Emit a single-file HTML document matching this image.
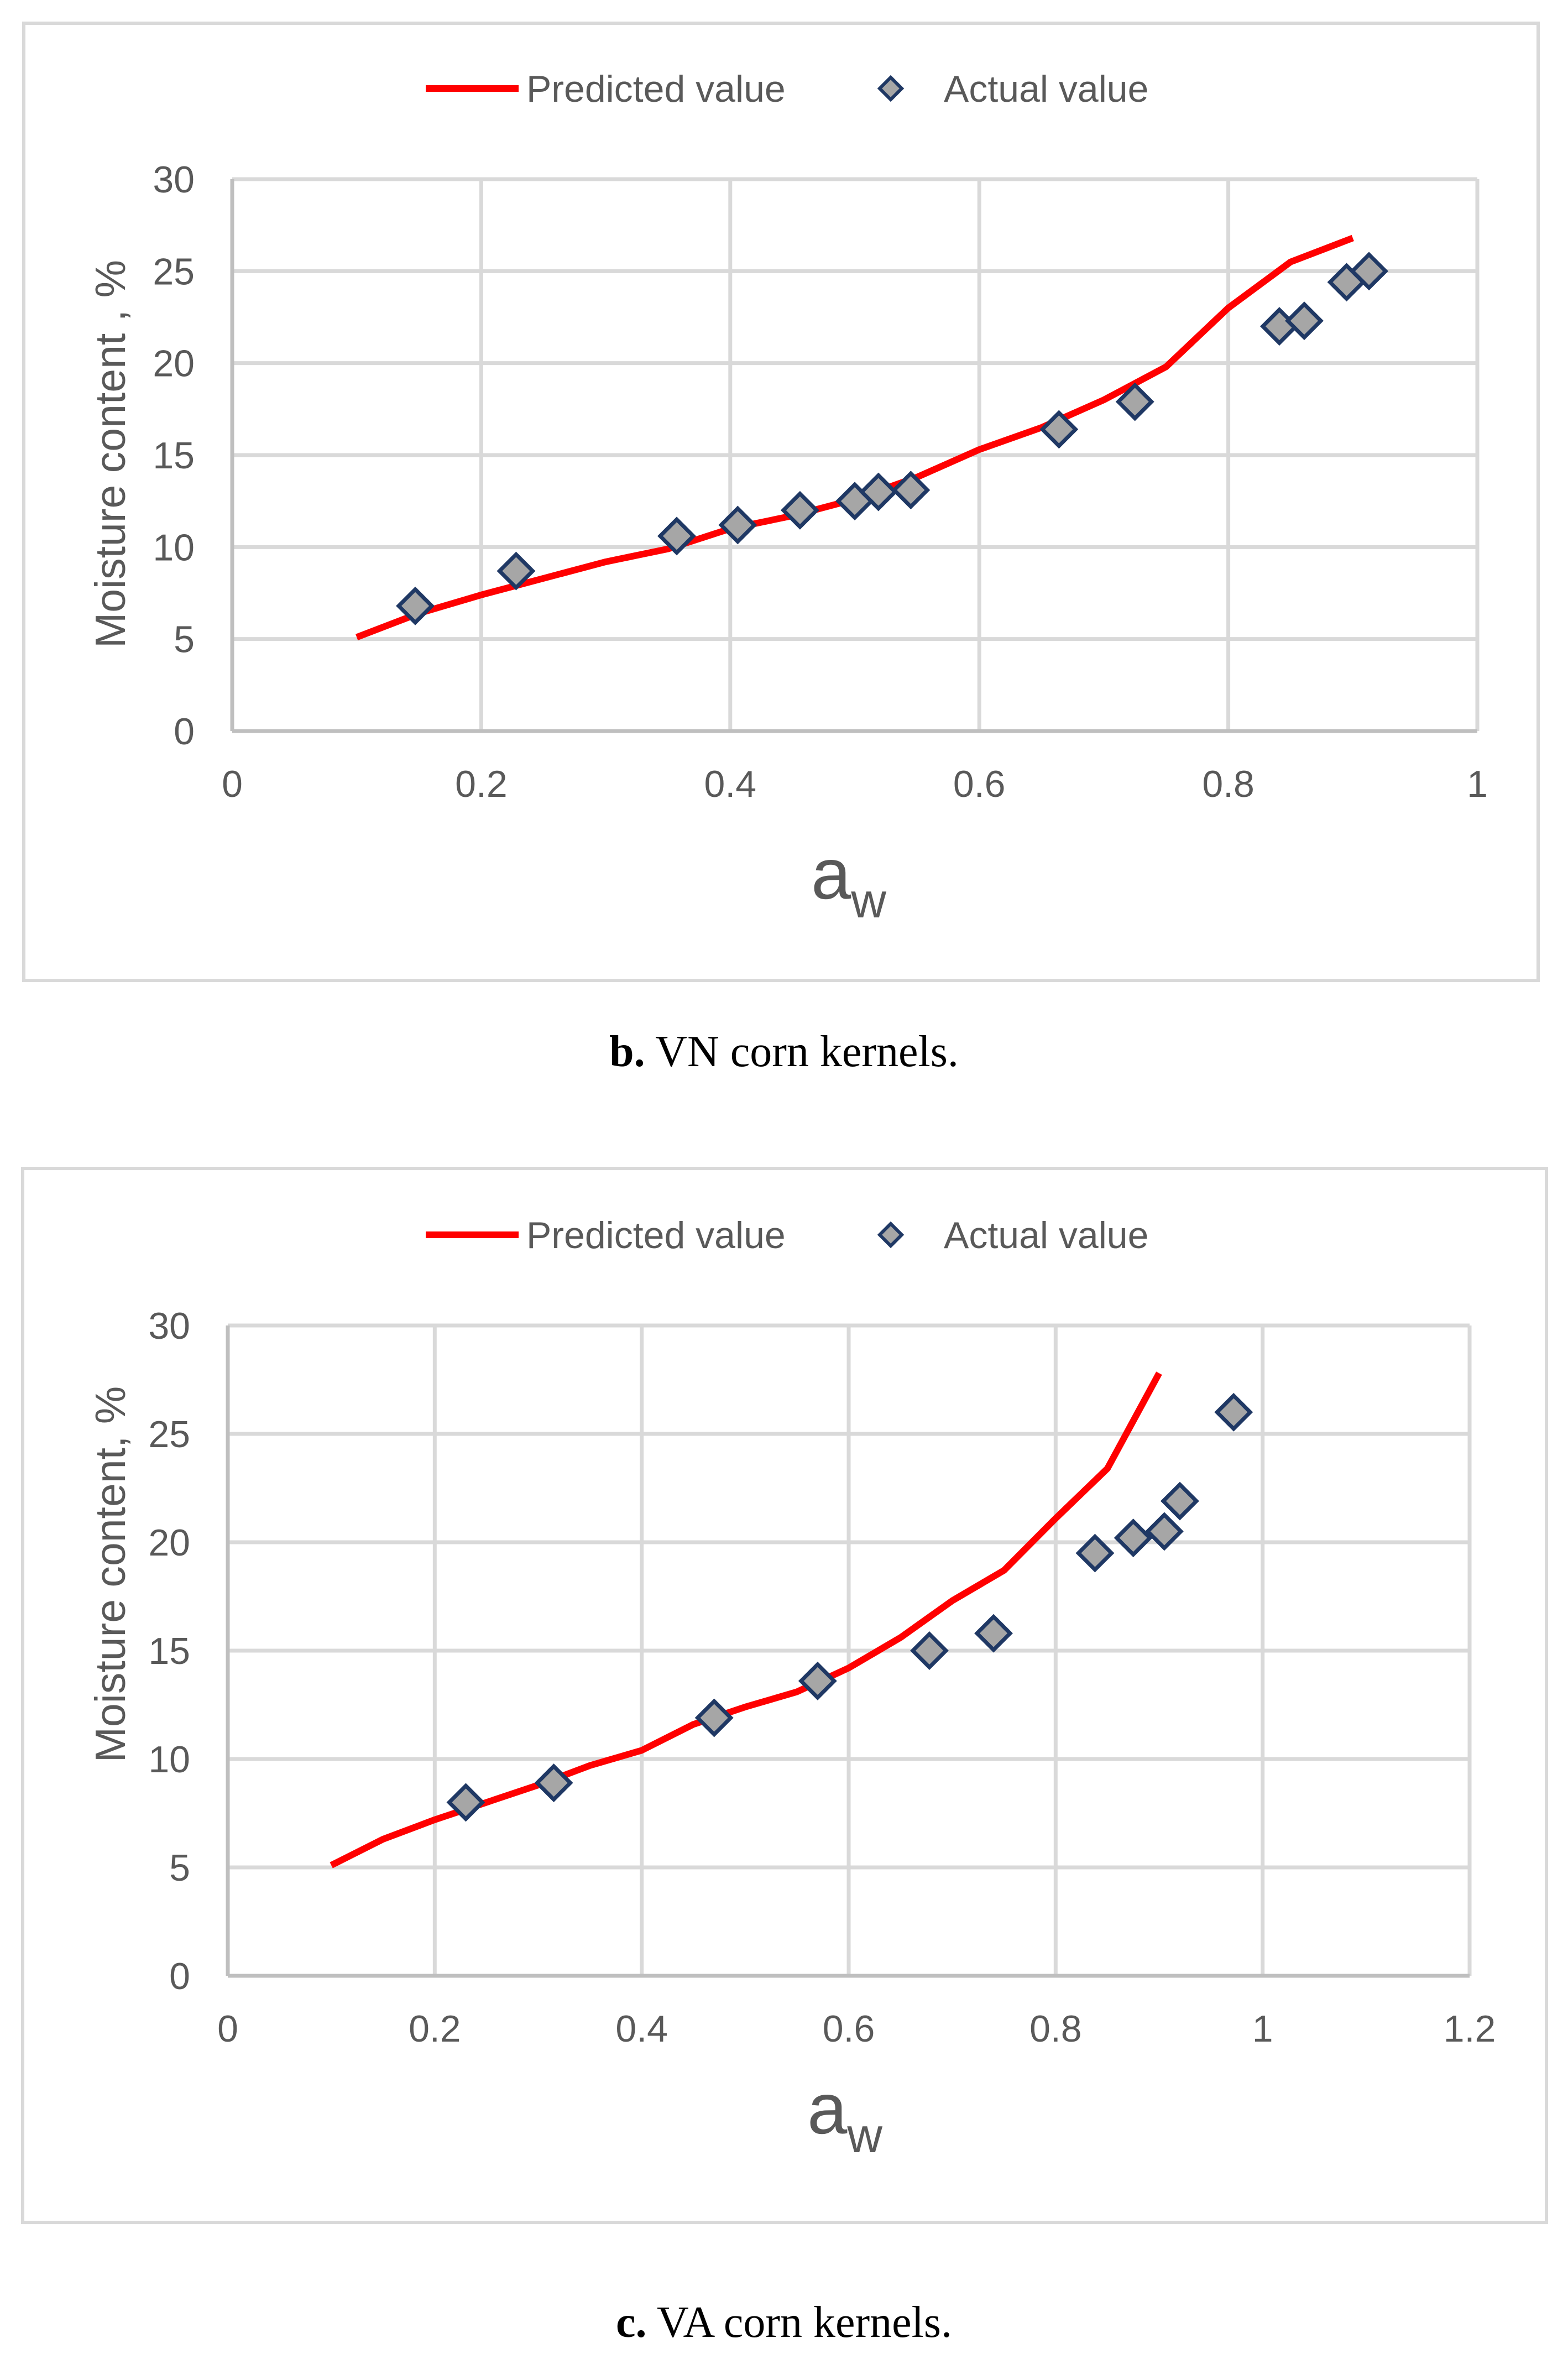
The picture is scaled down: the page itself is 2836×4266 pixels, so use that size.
<!DOCTYPE html>
<html><head><meta charset="utf-8"><style>
html,body{margin:0;padding:0;background:#fff;}
svg{display:block;}
text{font-family:"Liberation Sans","DejaVu Sans",sans-serif;fill:#595959;}
</style></head><body>
<svg id="s" width="2836" height="4266" viewBox="0 0 2836 4266" xmlns="http://www.w3.org/2000/svg">
<rect x="0" y="0" width="2836" height="4266" fill="#fff"/>
<rect x="43" y="42" width="2739" height="1731" fill="none" stroke="#d9d9d9" stroke-width="6"/>
<rect x="41" y="2113" width="2756" height="1906" fill="none" stroke="#d9d9d9" stroke-width="6"/>
<text x="1418" y="1928" text-anchor="middle" style="font-family:'Liberation Serif',serif;font-size:80px;fill:#000"><tspan font-weight="bold">b.</tspan> VN corn kernels.</text>
<text x="1418" y="4226" text-anchor="middle" style="font-family:'Liberation Serif',serif;font-size:80px;fill:#000"><tspan font-weight="bold">c.</tspan> VA corn kernels.</text>
</svg>
<script>
// Chart b data (VN)
const bPredX = [0.1,0.15,0.2,0.25,0.3,0.35,0.4,0.45,0.5,0.55,0.6,0.65,0.7,0.75,0.8,0.85,0.9];
const bPredY = [5.1,6.4,7.4,8.3,9.2,9.9,11.0,11.7,12.6,13.8,15.3,16.5,18.0,19.8,23.0,25.5,26.8];
const bActX = [0.147,0.228,0.357,0.406,0.456,0.5,0.519,0.545,0.664,0.725,0.841,0.861,0.895,0.913];
const bActY = [6.8,8.7,10.6,11.2,12.0,12.5,13.0,13.1,16.4,17.9,22.0,22.3,24.4,25.0];
const bXTicks = [0,0.2,0.4,0.6,0.8,1];
const bXTickLabels = ["0","0.2","0.4","0.6","0.8","1"];
const yTicks = [0,5,10,15,20,25,30];
const yTickLabels = ["0","5","10","15","20","25","30"];
// Chart c data (VA)
const cPredX = [0.1,0.15,0.2,0.25,0.3,0.35,0.4,0.45,0.5,0.55,0.6,0.65,0.7,0.75,0.8,0.85,0.9];
const cPredY = [5.1,6.3,7.2,8.0,8.8,9.7,10.4,11.6,12.4,13.1,14.2,15.6,17.3,18.7,21.1,23.4,27.8];
const cActX = [0.23,0.315,0.47,0.57,0.678,0.74,0.838,0.875,0.905,0.92,0.972];
const cActY = [8.0,8.9,11.9,13.6,15.0,15.8,19.5,20.2,20.5,21.9,26.0];
const cXTicks = [0,0.2,0.4,0.6,0.8,1,1.2];
const cXTickLabels = ["0","0.2","0.4","0.6","0.8","1","1.2"];

const NS = "http://www.w3.org/2000/svg";
const svg = document.getElementById('s');
function mk(tag, attrs, parent){
  const e = document.createElementNS(NS, tag);
  for (const k in attrs) e.setAttribute(k, attrs[k]);
  (parent||svg).appendChild(e);
  return e;
}
function chart(id, cfg){
  const g = mk('g', {});
  
  
  const sx = v => cfg.x0 + (v - cfg.xmin) / (cfg.xmax - cfg.xmin) * (cfg.x1 - cfg.x0);
  const sy = v => cfg.y0 - (v - 0) / 30 * (cfg.y0 - cfg.y1);
  yTicks.forEach((t, i) => {
    if (t === 0) return;
    const l = mk('line', {x1: cfg.x0, x2: cfg.x1, y1: sy(t), y2: sy(t), stroke: '#d9d9d9', 'stroke-width': 7}, g);
    
    
  });
  cfg.xt.forEach((t, i) => {
    if (t === cfg.xt[0]) return;
    const l = mk('line', {x1: sx(t), x2: sx(t), y1: cfg.y1, y2: cfg.y0, stroke: '#d9d9d9', 'stroke-width': 7}, g);
    
    
  });
  const ya = mk('line', {x1: cfg.x0, x2: cfg.x0, y1: cfg.y1, y2: cfg.y0, stroke: '#bfbfbf', 'stroke-width': 7}, g);
  
  
  const xa = mk('line', {x1: cfg.x0, x2: cfg.x1, y1: cfg.y0, y2: cfg.y0, stroke: '#bfbfbf', 'stroke-width': 7}, g);
  
  
  yTicks.forEach((t, i) => {
    const tx = mk('text', {x: cfg.x0 - 68, y: sy(t) + 24, 'text-anchor': 'end', 'font-size': 68}, g);
    tx.textContent = yTickLabels[i];
    
    
  });
  cfg.xt.forEach((t, i) => {
    const tx = mk('text', {x: sx(t), y: cfg.y0 + 119, 'text-anchor': 'middle', 'font-size': 68}, g);
    tx.textContent = cfg.xl[i];
    
    
  });
  const pts = cfg.px.map((v, i) => sx(v) + ',' + sy(cfg.py[i])).join(' ');
  const pl = mk('polyline', {points: pts, fill: 'none', stroke: '#ff0000', 'stroke-width': 12, 'stroke-linejoin': 'round'}, g);
  
  
  cfg.ax.forEach((v, i) => {
    const cx = sx(v), cy = sy(cfg.ay[i]), r = 30;
    const d = mk('polygon', {points: `${cx},${cy-r} ${cx+r},${cy} ${cx},${cy+r} ${cx-r},${cy}`, fill: '#a6a6a6', stroke: '#1f3864', 'stroke-width': 7}, g);
    
    
  });
  const ll = mk('line', {x1: 770, x2: 938, y1: cfg.ly, y2: cfg.ly, stroke: '#ff0000', 'stroke-width': 12}, g);
  
  
  const lt = mk('text', {x: 952, y: cfg.ly + 24, 'font-size': 68}, g);
  lt.textContent = 'Predicted value';
  
  
  const dx = 1611, dy = cfg.ly, r = 20;
  const ld = mk('polygon', {points: `${dx},${dy-r} ${dx+r},${dy} ${dx},${dy+r} ${dx-r},${dy}`, fill: '#a6a6a6', stroke: '#1f3864', 'stroke-width': 6}, g);
  
  
  const la = mk('text', {x: 1707, y: cfg.ly + 24, 'font-size': 68}, g);
  la.textContent = 'Actual value';
  
  
  const yt = mk('text', {x: 0, y: 0, 'text-anchor': 'middle', 'font-size': 77, transform: `translate(${cfg.ytx},${cfg.yty}) rotate(-90)`}, g);
  yt.textContent = cfg.ytitle;
  
  
  const xt = mk('text', {x: cfg.xtx, y: cfg.xty, 'text-anchor': 'middle', 'font-size': 130}, g);
  
  
  const t1 = mk('tspan', {}, xt); t1.textContent = 'a';
  const t2 = mk('tspan', {dy: 34, 'font-size': 88}, xt); t2.textContent = 'w';
}
chart('vn', {x0:420, x1:2672, y0:1322, y1:324, xmin:0, xmax:1, xt:bXTicks, xl:bXTickLabels,
  px:bPredX, py:bPredY, ax:bActX, ay:bActY, ly:160, ytitle:'Moisture content , %', ytx:226, yty:821, xtx:1535, xty:1625});
chart('va', {x0:412, x1:2658, y0:3573, y1:2397, xmin:0, xmax:1.2, xt:cXTicks, xl:cXTickLabels,
  px:cPredX, py:cPredY, ax:cActX, ay:cActY, ly:2233, ytitle:'Moisture content, %', ytx:226, yty:2847, xtx:1528, xty:3858});
</script>
</body></html>
